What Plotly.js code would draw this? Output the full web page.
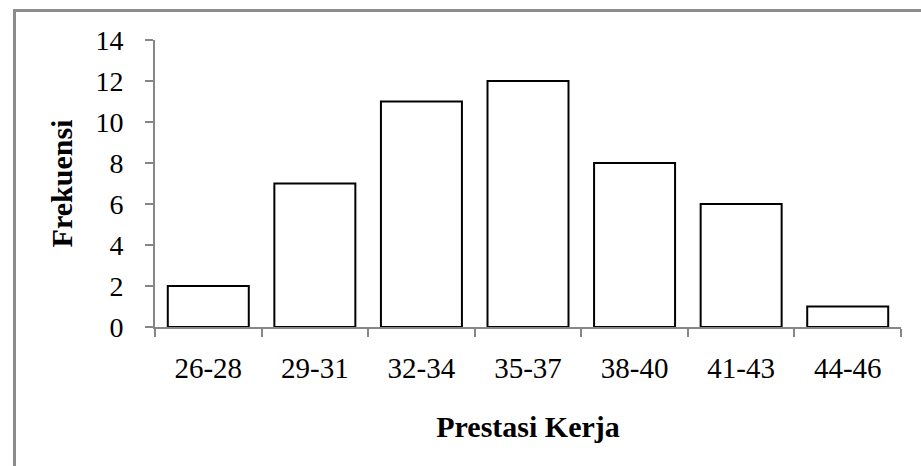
<!DOCTYPE html>
<html>
<head>
<meta charset="utf-8">
<script src="https://cdn.plot.ly/plotly-3.0.1.min.js"></script>
<style>
  html, body { margin: 0; padding: 0; background: #ffffff; }
  #wrap { position: relative; width: 921px; height: 466px; overflow: hidden; }
  #frame { position: absolute; left: 13px; top: 9px; width: 940px; height: 500px;
           border-top: 3px solid #8c8c8c; border-left: 3px solid #8c8c8c; box-sizing: border-box; }
  #chart { position: absolute; left: 0; top: 0; width: 921px; height: 466px; }
</style>
</head>
<body>
<div id="wrap">
  <div id="chart"></div>
  <div id="frame"></div>
</div>
<script>
// Frequency distribution of work performance scores
const kelas = ["26-28", "29-31", "32-34", "35-37", "38-40", "41-43", "44-46"];
const frekuensi = [2, 7, 11, 12, 8, 6, 1];
const yTicks = [0, 2, 4, 6, 8, 10, 12, 14];

const serif = "Liberation Serif, Times New Roman, serif";
const axisGrey = "#868686";

const trace = {
  type: "bar",
  x: kelas,
  y: frekuensi,
  marker: { color: "#ffffff", line: { color: "#000000", width: 2 } },
  hoverinfo: "x+y"
};

const layout = {
  width: 921,
  height: 466,
  margin: { l: 155, r: 20, t: 40, b: 139 },
  paper_bgcolor: "rgba(0,0,0,0)",
  plot_bgcolor: "#ffffff",
  bargap: 0.24,
  showlegend: false,
  font: { family: serif, color: "#000000", size: 29 },
  xaxis: {
    type: "category",
    showline: true, linecolor: axisGrey, linewidth: 2,
    ticks: "outside", tickson: "boundaries", ticklen: 8, tickwidth: 2, tickcolor: axisGrey,
    showgrid: false, zeroline: false,
    tickfont: { family: serif, size: 29, color: "#000000" },
    ticklabelstandoff: 14,
    title: { text: "<b>Prestasi Kerja</b>", font: { family: serif, size: 30, color: "#000000" }, standoff: 33 }
  },
  yaxis: {
    range: [0, 14],
    tickvals: yTicks,
    showline: true, linecolor: axisGrey, linewidth: 2,
    ticks: "outside", ticklen: 8, tickwidth: 2, tickcolor: axisGrey,
    showgrid: false, zeroline: false,
    tickfont: { family: serif, size: 28, color: "#000000" },
    ticklabelstandoff: 16,
    title: { text: "<b>Frekuensi</b>", font: { family: serif, size: 30, color: "#000000" }, standoff: 14 }
  }
};

Plotly.newPlot("chart", [trace], layout, { staticPlot: true, displayModeBar: false });
</script>
</body>
</html>
